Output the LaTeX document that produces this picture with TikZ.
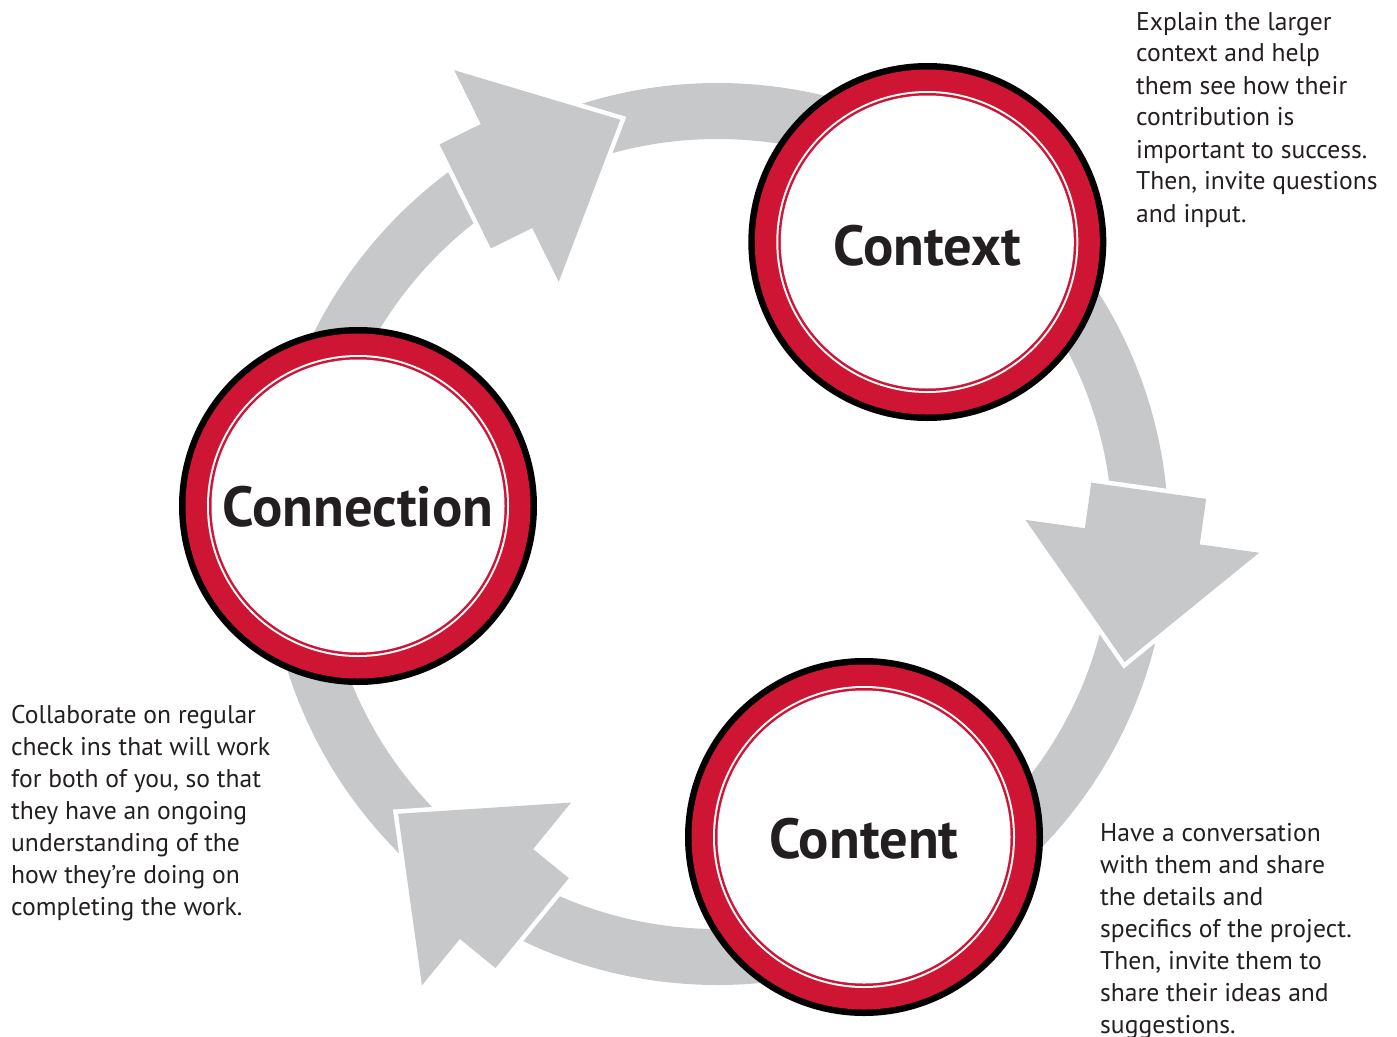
\documentclass[tikz,border=0pt]{standalone}
\usepackage{fontspec}
\setmainfont{PT Sans}
\definecolor{ringgray}{RGB}{199,200,202}
\definecolor{cred}{RGB}{206,22,52}
\definecolor{ink}{RGB}{35,31,32}
\newcommand\arrowshape{(-46,-58) -- (0,-58) -- (0,-118) -- (127,0) -- (0,118) -- (0,58) -- (-46,58) -- cycle}
\newcommand\bigarrow[3]{%
  \begin{scope}[shift={(#1,#2)}, rotate=#3]
    \path[draw=white, line width=9pt, line join=miter] \arrowshape;
    \fill[ringgray] \arrowshape;
  \end{scope}}
\newcommand\badge[6]{%
  \fill[black] (#1,#2) circle[radius=179pt];
  \fill[cred] (#1,#2) circle[radius=172.5pt];
  \fill[white] (#1,#2) circle[radius=151pt];
  \fill[cred] (#1,#2) circle[radius=149pt];
  \fill[white] (#1,#2) circle[radius=146.5pt];
  \node[title] (#4) at (#1,#5) {#6};}
\tikzset{
  title/.style={anchor=base, inner sep=0pt, text=ink, font=\fontsize{56.5}{64}\selectfont\bfseries},
  body/.style={anchor=base west, inner sep=0pt, text=ink, font=\fontsize{25.6}{32}\selectfont}
}
\begin{document}
\begin{tikzpicture}[x=1pt,y=-1pt]
\useasboundingbox (0,0) rectangle (1397,1036);
% ring
\draw[ringgray, line width=56pt] (717.5,534) circle[radius=423pt];
% arrows
\bigarrow{506.5}{176}{26.3}
\bigarrow{1142.3}{536.3}{-98}
\bigarrow{496.5}{894}{140.8}
% circles
\badge{927.3}{242}{ctx}{ctx}{265}{Context}
\badge{358}{506}{con}{con}{526}{Connection}
\badge{864}{837}{cnt}{cnt}{858}{Content}
% texts
\node[body] (tctx) at (1136,30) {\parbox[t]{300pt}{\raggedright
Explain the larger\\
context and help\\
them see how their\\
contribution is\\
important to success.\\
Then, invite questions\\
and input.}};
\node[body] (tcon) at (11,723) {\parbox[t]{300pt}{\raggedright
Collaborate on regular\\
check ins that will work\\
for both of you, so that\\
they have an ongoing\\
understanding of the\\
how they’re doing on\\
completing the work.}};
\node[body] (tcnt) at (1100,841) {\parbox[t]{300pt}{\raggedright
Have a conversation\\
with them and share\\
the details and\\
specifics of the project.\\
Then, invite them to\\
share their ideas and\\
suggestions.}};
\end{tikzpicture}
\end{document}
